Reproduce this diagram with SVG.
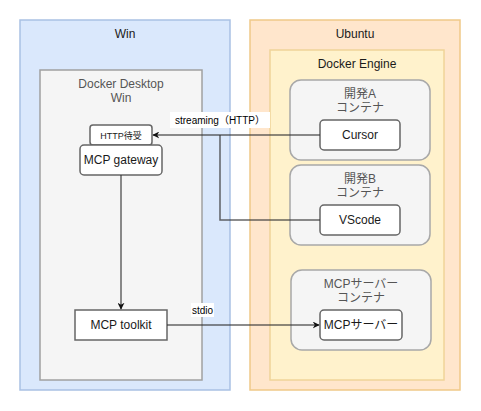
<svg xmlns="http://www.w3.org/2000/svg" width="481" height="411" viewBox="0 0 481 411">
<defs>
<style>
text{font-family:"Liberation Sans",Arial,"Noto Sans CJK JP",sans-serif;font-size:12px;text-anchor:middle;fill:#1a1a1a}
.g{fill:#555}
.box{fill:#fff;stroke:#666;stroke-width:1.5}
.cont{fill:#f5f5f5;stroke:#a8a8a8;stroke-width:1.5}
.ln{fill:none;stroke:#333;stroke-opacity:0.75;stroke-width:1.5}
.lbl{font-size:10px;fill:#000}
</style>
<marker id="ah" viewBox="0 0 10 10" refX="9" refY="5" markerWidth="7" markerHeight="7" orient="auto" markerUnits="userSpaceOnUse">
<path d="M0,0 L10,5 L0,10 L3,5 z" fill="#111"/>
</marker>
</defs>
<g id="win">
<rect x="20" y="20" width="210" height="370" fill="#dae8fc" stroke="#a9c1e4" stroke-width="1.5"/>
<text x="125" y="38">Win</text>
</g>
<g id="docker-desktop">
<rect x="40" y="70" width="162" height="310" fill="#f5f5f5" stroke="#a0a0a0" stroke-width="1.5"/>
<text x="121" y="88" class="g">Docker Desktop</text>
<text x="121" y="102" class="g">Win</text>
</g>
<g id="ubuntu">
<rect x="250" y="20" width="210" height="370" fill="#ffe6cc" stroke="#f0c988" stroke-width="1.5"/>
<text x="355" y="38">Ubuntu</text>
</g>
<g id="docker-engine">
<rect x="270" y="50" width="174" height="330" fill="#fff2cc" stroke="#f0d498" stroke-width="1.5"/>
<text x="357" y="68">Docker Engine</text>
</g>
<g id="devA">
<rect x="290" y="80" width="140" height="80" rx="11" class="cont"/>
<text x="360" y="98" class="g">開発A</text>
<text x="360" y="112" class="g">コンテナ</text>
</g>
<g id="devB">
<rect x="290" y="165" width="140" height="80" rx="11" class="cont"/>
<text x="360" y="183" class="g">開発B</text>
<text x="360" y="197" class="g">コンテナ</text>
</g>
<g id="mcp-container">
<rect x="291" y="270" width="140" height="80" rx="11" class="cont"/>
<text x="361" y="288" class="g">MCPサーバー</text>
<text x="361" y="302" class="g">コンテナ</text>
</g>
<g id="http">
<rect x="90" y="125" width="62" height="20" rx="3" class="box"/>
<text x="121" y="139" style="font-size:9px">HTTP待受</text>
</g>
<g id="gateway">
<rect x="80" y="145" width="82" height="30" rx="4" class="box"/>
<text x="121" y="164">MCP gateway</text>
</g>
<g id="toolkit">
<rect x="75" y="310" width="92" height="30" class="box"/>
<text x="121" y="329">MCP toolkit</text>
</g>
<g id="cursor">
<rect x="320" y="120" width="80" height="30" rx="4" class="box"/>
<text x="360" y="139">Cursor</text>
</g>
<g id="vscode">
<rect x="320" y="205" width="80" height="30" rx="4" class="box"/>
<text x="360" y="224">VScode</text>
</g>
<g id="mcp-server">
<rect x="320" y="310" width="82" height="30" rx="4" class="box"/>
<text x="361" y="329">MCPサーバー</text>
</g>
<g id="connectors">
<path d="M320,135 L153,135" class="ln" marker-end="url(#ah)"/>
<path d="M320,220 L220,220 L220,135" class="ln"/>
<path d="M121,175 L121,309" class="ln" marker-end="url(#ah)"/>
<path d="M167,325 L319,325" class="ln" marker-end="url(#ah)"/>
<rect x="170" y="112" width="100" height="16" fill="#fff"/>
<text x="220" y="124" class="lbl">streaming（HTTP）</text>
<rect x="191" y="303" width="23" height="14" fill="#fff"/>
<text x="202.5" y="314" class="lbl">stdio</text>
</g>
</svg>
